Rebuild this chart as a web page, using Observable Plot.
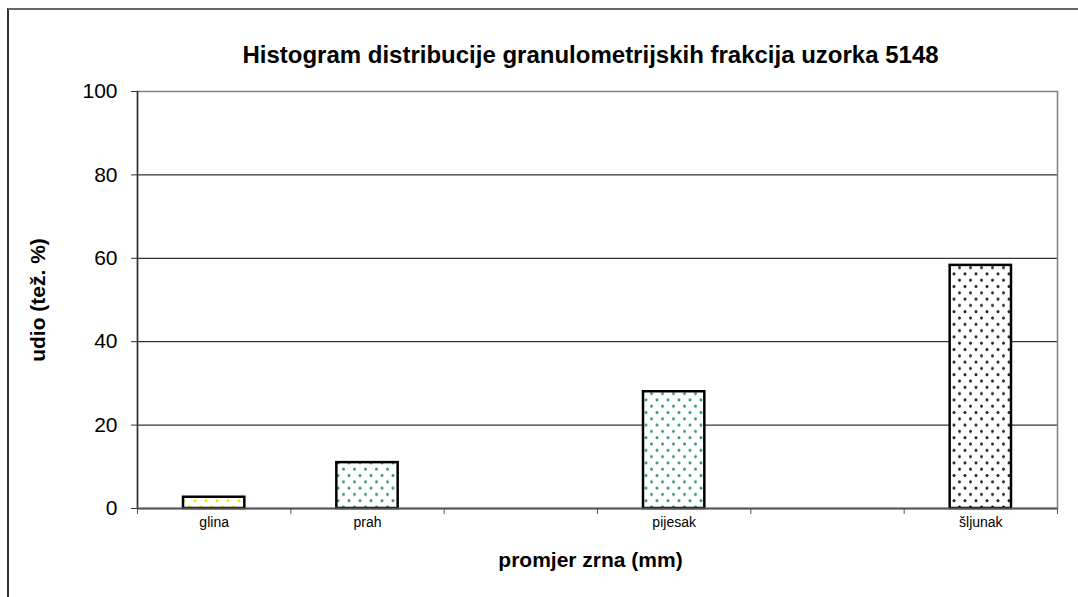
<!DOCTYPE html>
<html><head><meta charset="utf-8">
<script src="https://cdn.jsdelivr.net/npm/d3@7"></script>
<script src="https://cdn.jsdelivr.net/npm/@observablehq/plot@0.6"></script>
<style>
body{margin:0;background:#fff;font-family:"Liberation Sans",Arial,sans-serif;}
#wrap{position:relative;width:1078px;height:597px;overflow:hidden;}
#frame{position:absolute;left:7px;top:8px;right:-5px;bottom:-5px;border-left:2px solid #333;border-top:2px solid #666;}
#wrap svg{position:absolute;left:0;top:0;}
</style></head><body><div id="wrap"><div id="frame"></div></div>
<script>
// x slots (empty strings = unlabeled empty categories)
const slots = ["glina", "prah", "", "pijesak", "", "šljunak"];
const categories = ["glina", "prah", "pijesak", "šljunak"];
const values = [2.7, 11.0, 28.0, 58.3];
const yTicks = [0, 20, 40, 60, 80, 100];
const gridTicks = [20, 40, 60, 80];
const title = "Histogram distribucije granulometrijskih frakcija uzorka 5148";
const xLabel = "promjer zrna (mm)";
const yLabel = "udio (tež. %)";

// styling (dot pattern colours per category)
const dotColors = ["#f2ee00", "#3a9a6c", "#3a9a6c", "#222222"];

const data = categories.map((c, i) => ({
  name: c, value: values[i], slot: slots.indexOf(c), pat: "url(#pat" + i + ")"
}));
const boundaries = d3.range(slots.length + 1);

const chart = Plot.plot({
  width: 1078,
  height: 597,
  marginLeft: 137,
  marginRight: 21,
  marginTop: 91,
  marginBottom: 89,
  style: {fontFamily: "'Liberation Sans', Arial, sans-serif", background: "transparent", color: "black"},
  x: {type: "linear", domain: [0, slots.length]},
  y: {domain: [0, 100]},
  color: {type: "identity"},
  marks: [
    Plot.gridY(gridTicks, {stroke: "black", strokeOpacity: 1, strokeWidth: 1}),
    Plot.frame({stroke: "#808080", strokeWidth: 1.5}),
    Plot.rectY(data, {
      x1: d => d.slot + 0.3, x2: d => d.slot + 0.7, y1: 0, y2: "value",
      fill: "pat", stroke: "black", strokeWidth: 2.5
    }),
    Plot.ruleX([0], {stroke: "#333", strokeWidth: 1.5}),
    Plot.ruleY([0], {stroke: "#555", strokeWidth: 2}),
    Plot.axisY(yTicks, {tickSize: 6, tickPadding: 14, fontSize: 21, label: null, stroke: "#333"}),
    Plot.axisX(boundaries, {tickSize: 6, tickFormat: () => "", label: null, stroke: "#555"}),
    Plot.axisX(data.map(d => d.slot + 0.5), {
      tickSize: 0, tickPadding: 9, fontSize: 14, label: null,
      tickFormat: v => slots[Math.floor(v)]
    }),
    Plot.text([title], {frameAnchor: "top", lineAnchor: "middle", dy: -36, dx: -7, fontSize: 24, fontWeight: "bold"}),
    Plot.text([xLabel], {frameAnchor: "bottom", lineAnchor: "middle", dy: 52, dx: -7, fontSize: 21, fontWeight: "bold"}),
    Plot.text([yLabel], {frameAnchor: "left", textAnchor: "middle", lineAnchor: "middle", dx: -99, rotate: -90, fontSize: 21, fontWeight: "bold"})
  ]
});

const defs = d3.select(chart).insert("defs", ":first-child");
dotColors.forEach((col, i) => {
  const p = defs.append("pattern").attr("id", "pat" + i)
    .attr("patternUnits", "userSpaceOnUse").attr("width", 11).attr("height", 12.6);
  p.append("rect").attr("width", 11).attr("height", 12.6).attr("fill", "white");
  [[2.5, 3], [8, 9.3]].forEach(([cx, cy]) =>
    p.append("circle").attr("cx", cx).attr("cy", cy).attr("r", 1.5).attr("fill", col));
});

document.getElementById("wrap").appendChild(chart);
</script>
</body></html>
